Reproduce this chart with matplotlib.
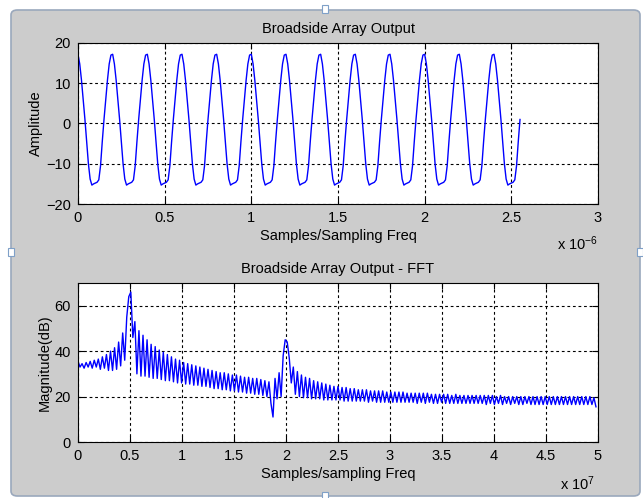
import numpy as np
import matplotlib.pyplot as plt
from matplotlib.patches import FancyBboxPatch, Rectangle

plt.rcParams['font.family'] = ['Liberation Sans', 'DejaVu Sans']
plt.rcParams['font.size'] = 10
plt.rcParams['mathtext.default'] = 'regular'

# Frecuencia de muestreo (Hz)
fs = 1e8

array_output = [
    17.2, 14.8, 10.8, 6.0, 1.0, -4.5, -10.0, -13.8, -15.3, -15.0, -14.8, -14.6, -14.0, -10.5, -4.5, 1.0, 6.0, 10.8, 14.8, 17.0,
    17.2, 14.8, 10.8, 6.0, 1.0, -4.5, -10.0, -13.8, -15.3, -15.0, -14.8, -14.6, -14.0, -10.5, -4.5, 1.0, 6.0, 10.8, 14.8, 17.0,
    17.2, 14.8, 10.8, 6.0, 1.0, -4.5, -10.0, -13.8, -15.3, -15.0, -14.8, -14.6, -14.0, -10.5, -4.5, 1.0, 6.0, 10.8, 14.8, 17.0,
    17.2, 14.8, 10.8, 6.0, 1.0, -4.5, -10.0, -13.8, -15.3, -15.0, -14.8, -14.6, -14.0, -10.5, -4.5, 1.0, 6.0, 10.8, 14.8, 17.0,
    17.2, 14.8, 10.8, 6.0, 1.0, -4.5, -10.0, -13.8, -15.3, -15.0, -14.8, -14.6, -14.0, -10.5, -4.5, 1.0, 6.0, 10.8, 14.8, 17.0,
    17.2, 14.8, 10.8, 6.0, 1.0, -4.5, -10.0, -13.8, -15.3, -15.0, -14.8, -14.6, -14.0, -10.5, -4.5, 1.0, 6.0, 10.8, 14.8, 17.0,
    17.2, 14.8, 10.8, 6.0, 1.0, -4.5, -10.0, -13.8, -15.3, -15.0, -14.8, -14.6, -14.0, -10.5, -4.5, 1.0, 6.0, 10.8, 14.8, 17.0,
    17.2, 14.8, 10.8, 6.0, 1.0, -4.5, -10.0, -13.8, -15.3, -15.0, -14.8, -14.6, -14.0, -10.5, -4.5, 1.0, 6.0, 10.8, 14.8, 17.0,
    17.2, 14.8, 10.8, 6.0, 1.0, -4.5, -10.0, -13.8, -15.3, -15.0, -14.8, -14.6, -14.0, -10.5, -4.5, 1.0, 6.0, 10.8, 14.8, 17.0,
    17.2, 14.8, 10.8, 6.0, 1.0, -4.5, -10.0, -13.8, -15.3, -15.0, -14.8, -14.6, -14.0, -10.5, -4.5, 1.0, 6.0, 10.8, 14.8, 17.0,
    17.2, 14.8, 10.8, 6.0, 1.0, -4.5, -10.0, -13.8, -15.3, -15.0, -14.8, -14.6, -14.0, -10.5, -4.5, 1.0, 6.0, 10.8, 14.8, 17.0,
    17.2, 14.8, 10.8, 6.0, 1.0, -4.5, -10.0, -13.8, -15.3, -15.0, -14.8, -14.6, -14.0, -10.5, -4.5, 1.0, 6.0, 10.8, 14.8, 17.0,
    17.2, 14.8, 10.8, 6.0, 1.0, -4.5, -10.0, -13.8, -15.3, -15.0, -14.8, -14.6, -14.0, -10.5, -4.5, 1.0,
]

fft_db = [
    35.5, 33.0, 34.5, 32.5, 35.0, 33.0, 35.5, 32.5, 36.0, 33.0, 36.5, 32.0, 37.5, 32.5, 38.5, 31.5,
    40.0, 31.5, 41.5, 32.0, 44.0, 33.5, 48.0, 36.0, 55.0, 64.0, 66.0, 46.0, 53.0, 30.0, 49.0, 29.0,
    47.0, 29.0, 45.0, 28.5, 43.0, 28.0, 42.0, 28.0, 40.5, 27.5, 39.5, 27.0, 38.5, 27.0, 37.5, 26.5,
    36.5, 26.0, 36.0, 26.0, 35.0, 25.5, 34.5, 25.5, 34.0, 25.0, 33.5, 25.0, 33.0, 24.5, 32.5, 24.5,
    32.0, 24.0, 31.5, 23.5, 31.0, 23.5, 30.5, 23.0, 30.5, 23.0, 30.0, 22.5, 29.5, 22.5, 29.5, 22.0,
    29.0, 22.0, 28.5, 21.5, 28.5, 21.5, 28.0, 21.0, 28.0, 21.0, 27.5, 20.5, 27.0, 20.0, 26.5, 17.0,
    11.0, 28.0, 19.0, 30.5, 20.0, 38.0, 45.0, 44.0, 37.0, 26.0, 33.0, 21.0, 31.0, 20.0, 29.5, 19.5,
    28.5, 19.5, 28.0, 19.0, 27.0, 19.0, 26.5, 19.0, 26.0, 18.5, 25.5, 18.5, 25.0, 18.5, 24.5, 18.5,
    24.5, 18.5, 24.0, 18.0, 24.0, 18.0, 23.5, 18.0, 23.5, 18.0, 23.0, 18.0, 23.0, 18.0, 23.0, 17.5,
    22.5, 18.0, 22.5, 17.5, 22.5, 17.5, 22.5, 17.5, 22.0, 17.5, 22.0, 17.5, 22.0, 17.5, 22.0, 17.5,
    22.0, 17.5, 21.5, 17.5, 21.5, 17.5, 21.5, 17.0, 21.5, 17.5, 21.5, 17.0, 21.5, 17.5, 21.0, 17.0,
    21.0, 17.0, 21.0, 17.5, 21.0, 17.0, 21.0, 17.0, 20.5, 17.0, 21.0, 17.0, 20.5, 17.0, 20.5, 17.0,
    20.5, 17.0, 20.5, 17.0, 20.5, 17.0, 20.5, 17.0, 20.5, 16.5, 20.5, 17.0, 20.5, 16.5, 20.0, 17.0,
    20.5, 16.5, 20.0, 17.0, 20.0, 16.5, 20.0, 17.0, 20.0, 16.5, 20.0, 16.5, 20.0, 17.0, 20.0, 16.5,
    20.0, 16.5, 20.0, 16.5, 20.0, 16.5, 20.0, 16.5, 20.0, 16.5, 20.0, 16.5, 20.0, 16.5, 20.0, 16.5,
    20.0, 16.5, 20.0, 16.5, 20.0, 16.5, 20.0, 16.5, 20.0, 16.5, 20.0, 16.5, 20.0, 16.5, 19.5, 15.5,
]

top_xticks = [0, 0.5, 1, 1.5, 2, 2.5, 3]
top_yticks = [-20, -10, 0, 10, 20]
bot_xticks = [0, 0.5, 1, 1.5, 2, 2.5, 3, 3.5, 4, 4.5, 5]
bot_yticks = [0, 20, 40, 60]

t = np.arange(len(array_output)) / fs
f = np.arange(len(fft_db)) * (fs / 2) / len(fft_db)

W, H = 643, 498
fig = plt.figure(figsize=(W / 100, H / 100), dpi=100, facecolor='white')


def fx(px):
    return px / W


def fy(py):
    return 1 - py / H


# marco de la ventana (detrás de los ejes)
marco = FancyBboxPatch((fx(11), fy(496)), fx(640) - fx(11), fy(10) - fy(496),
                       boxstyle='round,pad=0,rounding_size=0.01',
                       transform=fig.transFigure, facecolor='#cccccc',
                       edgecolor='#9aa8bc', lw=1.2, zorder=-10)
fig.patches.append(marco)
for (hx, hy) in [(11, 252), (640, 252), (325, 9), (325, 496)]:
    fig.patches.append(Rectangle((fx(hx - 3), fy(hy + 4)), 6 / W, 8 / H,
                                 transform=fig.transFigure, facecolor='white',
                                 edgecolor='#7fa0c8', lw=0.8, zorder=-5))

grid_kw = dict(color='black', linestyle=(0, (2.5, 2.5)), linewidth=0.8)


def estilo(ax):
    ax.set_facecolor('white')
    ax.grid(True, **grid_kw)
    ax.tick_params(direction='in', length=4, top=True, right=True,
                   labelsize=10.5, pad=5, colors='black')
    for s in ax.spines.values():
        s.set_color('black')
        s.set_linewidth(0.8)


# Panel superior
ax1 = fig.add_axes([fx(78), fy(204), (598 - 78) / W, (204 - 43) / H])
ax1.plot(t, array_output, color='#0000ff', lw=1.0)
ax1.set_xlim(0, 3e-6)
ax1.set_ylim(-20, 20)
ax1.set_xticks([v * 1e-6 for v in top_xticks])
ax1.set_xticklabels([f'{v:g}' for v in top_xticks])
ax1.set_yticks(top_yticks)
estilo(ax1)
ax1.set_title('Broadside Array Output', fontsize=10.5, pad=7)
ax1.set_xlabel('Samples/Sampling Freq', fontsize=10.5, labelpad=3)
ax1.set_ylabel('Amplitude', fontsize=10.5, labelpad=2)
fig.text(fx(557), fy(250), 'x 10$^{-6}$', fontsize=10.5, va='baseline')

# Panel inferior
ax2 = fig.add_axes([fx(78), fy(442), (598 - 78) / W, (442 - 283) / H])
ax2.plot(f, fft_db, color='#0000ff', lw=1.0)
ax2.set_xlim(0, 5e7)
ax2.set_ylim(0, 70)
ax2.set_xticks([v * 1e7 for v in bot_xticks])
ax2.set_xticklabels([f'{v:g}' for v in bot_xticks])
ax2.set_yticks(bot_yticks)
estilo(ax2)
ax2.set_title('Broadside Array Output - FFT', fontsize=10.5, pad=7)
ax2.set_xlabel('Samples/sampling Freq', fontsize=10.5, labelpad=3)
ax2.set_ylabel('Magnitude(dB)', fontsize=10.5, labelpad=2)
fig.text(fx(560), fy(490), 'x 10$^{7}$', fontsize=10.5, va='baseline')

fig.savefig('out.png', dpi=100, facecolor='white')
